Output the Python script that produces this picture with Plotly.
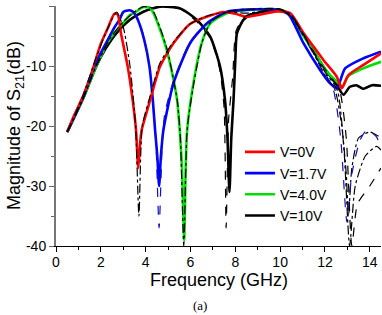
import plotly.graph_objects as go

# ---- measured curves (frequency GHz, |S21| dB) ----
f_0v = [0.5, 0.8, 1.2, 1.6, 2.0, 2.3, 2.6, 2.75, 2.9, 3.2, 3.42, 3.57, 3.67, 3.75, 3.82, 4.2, 4.64, 5.24, 5.98, 6.88, 7.47, 8.0, 8.5, 9.0, 9.85, 10.45, 11.04, 11.5, 11.93, 12.53, 12.75, 13.05, 13.72, 14.5]
m_0v = [-21, -18.3, -15.1, -11.0, -6.3, -3.8, -1.3, -1.4, -4.6, -10.1, -15.7, -20.7, -27, -23, -20.7, -15.7, -10.1, -6.2, -3.0, -1.6, -1.0, -1.3, -1.8, -1.5, -0.9, -1.2, -4.5, -6.8, -9.0, -11.8, -13.7, -11.5, -9.8, -7.9]

f_17v = [0.5, 1.2, 1.8, 2.23, 2.6, 2.83, 3.0, 3.27, 3.45, 3.65, 3.94, 4.17, 4.32, 4.42, 4.52, 4.6, 4.68, 4.79, 5.24, 5.98, 6.73, 7.62, 8.5, 9.5, 10.0, 10.4, 11.04, 11.79, 12.23, 12.53, 12.9, 13.72, 14.5]
m_17v = [-21, -15.3, -9.3, -6.2, -3.6, -2.3, -1.0, -0.7, -1.0, -2.3, -5.7, -10.1, -15.7, -20.7, -25, -30, -25, -20.7, -12.9, -6.2, -2.9, -0.95, -0.6, -0.6, -0.8, -1.5, -6.2, -10.7, -12.9, -13.7, -10.4, -8.7, -7.6]

f_40v = [0.5, 1.2, 1.8, 2.4, 2.98, 3.3, 3.57, 3.87, 4.2, 4.35, 4.65, 4.94, 5.2, 5.4, 5.52, 5.62, 5.72, 5.78, 5.85, 6.13, 6.5, 6.88, 7.62, 8.5, 9.5, 10.0, 10.4, 11.0, 11.5, 12.0, 12.5, 12.8, 13.0, 13.7, 14.5]
m_40v = [-21, -15.5, -10.0, -5.5, -2.9, -1.5, -0.95, -0.2, -0.3, -1.2, -4.0, -7.3, -11.5, -15.6, -20.7, -27, -39, -28, -20.7, -12.9, -6.2, -2.9, -1.2, -0.7, -0.5, -0.6, -1.3, -4.8, -7.5, -10.5, -12.5, -13.4, -11.8, -10.4, -9.3]

f_10v = [0.5, 1.2, 1.79, 2.2, 2.68, 3.3, 3.9, 4.64, 5.54, 6.28, 6.88, 7.32, 7.54, 7.65, 7.74, 7.82, 7.92, 8.0, 8.07, 8.36, 8.66, 9.25, 10.0, 10.4, 11.0, 11.5, 12.0, 12.5, 12.83, 13.1, 13.4, 13.7, 14.1, 14.5]
m_10v = [-21, -15.5, -10.1, -7.2, -4.6, -2.3, -0.95, -0.1, -0.4, -2.3, -5.1, -10.1, -15.7, -22, -31, -22, -15.7, -9.0, -4.6, -2.3, -1.5, -0.95, -0.7, -1.3, -4.5, -7.5, -10.5, -13.0, -14.8, -13.5, -13.2, -13.8, -13.2, -13.3]

# ---- simulated curves ----
fs_0v = [0.5, 1.2, 1.8, 2.3, 2.7, 3.0, 3.3, 3.55, 3.7, 3.85, 4.2, 4.64, 5.24, 5.98, 6.88, 7.77, 8.5, 9.3, 10.0, 10.5, 11.0, 11.5, 12.0, 12.45, 12.75, 12.95, 13.05, 13.2, 13.5, 14.0, 14.5]
s_0v = [-21, -15, -8.5, -3.8, -1.0, -3.5, -10, -20, -35, -20, -15, -9.5, -6, -3, -1.5, -1, -1.2, -0.8, -0.5, -1.5, -4.5, -8, -11.5, -14, -20, -28, -35, -27, -22, -21, -22]

fs_17v = [0.5, 1.2, 1.8, 2.23, 2.83, 3.1, 3.3, 3.65, 3.94, 4.17, 4.32, 4.45, 4.6, 4.75, 4.85, 5.24, 5.98, 6.73, 7.62, 8.5, 9.5, 10.0, 10.5, 11.0, 11.5, 11.9, 12.38, 12.7, 12.98, 13.2, 13.57, 13.87, 14.3, 14.5]
s_17v = [-21, -15.3, -9.3, -6.2, -2.3, -0.6, -0.5, -2.0, -5.5, -10, -15.7, -22, -37, -22, -18, -12.5, -6, -2.8, -0.9, -0.5, -0.4, -0.6, -1.8, -4.8, -8, -10.5, -14, -22, -36, -28, -22.3, -20.7, -21.8, -24]

fs_40v = [0.5, 1.2, 1.8, 2.4, 2.98, 3.57, 3.9, 4.25, 4.4, 4.7, 4.98, 5.22, 5.42, 5.55, 5.7, 5.83, 5.9, 6.16, 6.52, 6.9, 7.62, 8.5, 9.5, 10.0, 10.5, 11.0, 11.6, 12.0, 12.55, 12.85, 13.1, 13.35, 13.8, 14.3, 14.5]
s_40v = [-21, -15.5, -10, -5.5, -2.7, -0.8, -0.1, -0.3, -1.3, -4.2, -7.5, -11.8, -16, -22, -40, -22, -19, -12.6, -6, -2.7, -1.0, -0.6, -0.4, -0.5, -1.8, -4.6, -8.5, -11, -14, -24, -40, -30, -25, -23.4, -24]

fs_10v = [0.5, 1.2, 1.79, 2.68, 3.3, 3.9, 4.64, 5.54, 6.28, 6.9, 7.3, 7.5, 7.59, 7.7, 7.88, 8.03, 8.36, 8.66, 9.25, 10.0, 10.5, 11.0, 11.8, 12.2, 12.65, 12.95, 13.2, 13.45, 14.0, 14.5]
s_10v = [-21, -15.5, -10, -4.5, -2.2, -0.9, -0.1, -0.5, -2.6, -5.5, -10.5, -17, -37, -19, -12, -4.2, -2.0, -1.3, -0.9, -0.6, -1.6, -4.4, -9.5, -11.5, -14, -22, -40, -33, -30, -27]

labels = ["V=0V", "V=1.7V", "V=4.0V", "V=10V"]
colors = ["#ff0000", "#0000ff", "#00e000", "#000000"]

x_ticks = [0, 2, 4, 6, 8, 10, 12, 14]
x_minor = [1, 3, 5, 7, 9, 11, 13]
y_ticks = [-40, -30, -20, -10, 0]
y_ticklabels = ["-40", "-30", "-20", "-10", "0"]
y_minor = [-35, -25, -15, -5]

fig = go.Figure()

measured = [(f_0v, m_0v), (f_17v, m_17v), (f_40v, m_40v), (f_10v, m_10v)]
simulated = [(fs_0v, s_0v, "#000000", "dashdot"), (fs_17v, s_17v, "#1010c0", "dash"),
             (fs_40v, s_40v, "#000000", "dashdot"), (fs_10v, s_10v, "#000000", "dash")]

# draw order: black, green, blue, red (red on top)
for i in [3, 2, 1, 0]:
    fx, fy = measured[i]
    fig.add_trace(go.Scatter(x=fx, y=fy, mode="lines", name=labels[i],
                             line=dict(color=colors[i], width=2.6, shape="spline", smoothing=0.6),
                             legendrank=i + 1))

for fx, fy, c, d in simulated:
    fig.add_trace(go.Scatter(x=fx, y=fy, mode="lines", showlegend=False,
                             line=dict(color=c, width=1.2, dash=d, shape="spline", smoothing=0.6)))

font_family = "Liberation Sans, Arial, sans-serif"

fig.update_layout(
    width=382, height=315,
    margin=dict(l=56, r=1, t=6, b=69, autoexpand=False),
    paper_bgcolor="white", plot_bgcolor="white",
    font=dict(family=font_family, color="black", size=14),
    showlegend=True,
    legend=dict(x=0.566, y=0.457, xanchor="left", yanchor="top",
                bgcolor="rgba(0,0,0,0)", font=dict(size=14, family=font_family),
                itemwidth=30, tracegroupgap=0),
    xaxis=dict(range=[0, 14.5], tickmode="array", tickvals=x_ticks, automargin=False,
               ticks="outside", ticklen=5, tickwidth=1, tickcolor="black",
               minor=dict(tickmode="array", tickvals=x_minor, ticks="outside", ticklen=3, tickcolor="black"),
               showline=True, linecolor="black", linewidth=1, showgrid=False, zeroline=False,
               tickfont=dict(size=14), ticklabelstandoff=-2),
    yaxis=dict(range=[-40, 0], tickmode="array", tickvals=y_ticks, ticktext=y_ticklabels, automargin=False,
               ticks="outside", ticklen=5, tickwidth=1, tickcolor="#666",
               minor=dict(tickmode="array", tickvals=y_minor, ticks="outside", ticklen=3, tickcolor="#666"),
               showline=True, linecolor="#777", linewidth=2, showgrid=False, zeroline=False,
               tickfont=dict(size=14)),
    annotations=[
        dict(text="Frequency (GHz)", x=0.5, y=-0.142, xref="paper", yref="paper",
             xanchor="center", yanchor="middle", showarrow=False, font=dict(size=18)),
        dict(text="Magnitude of S<sub>21</sub>(dB)", x=-0.126, y=0.5, xref="paper", yref="paper",
             xanchor="center", yanchor="middle", textangle=-90, showarrow=False, font=dict(size=18)),
        dict(text="(a)", x=0.443, y=-0.246, xref="paper", yref="paper",
             xanchor="center", yanchor="middle",
             showarrow=False, font=dict(family="Liberation Serif, Times New Roman, serif", size=13)),
    ],
)

fig.write_html("out.html", config={"displayModeBar": False},
               post_script="document.body.style.margin='0';document.body.style.overflow='hidden';")
